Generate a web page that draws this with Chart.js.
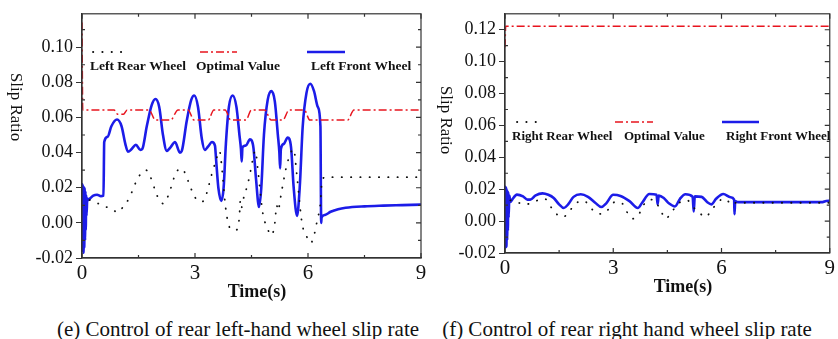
<!DOCTYPE html>
<html>
<head>
<meta charset="utf-8">
<script src="https://cdn.jsdelivr.net/npm/chart.js@4.4.1/dist/chart.umd.min.js"></script>
<style>
  body { margin: 0; background: #fff; width: 838px; height: 339px; position: relative; overflow: hidden; }
  .box { position: absolute; top: 0; height: 305px; }
  #boxL { left: 0; width: 430px; }
  #boxR { left: 430px; width: 408px; }
  .cap { position: absolute; top: 317px; font: 21px "Liberation Serif", "Times New Roman", serif; color: #111; white-space: nowrap; transform: translateX(-50%); }
</style>
</head>
<body>
<div class="box" id="boxL"><canvas id="chartL"></canvas></div>
<div class="box" id="boxR"><canvas id="chartR"></canvas></div>
<div class="cap" style="left:238px">(e) Control of rear left-hand wheel slip rate</div>
<div class="cap" style="left:627px">(f) Control of rear right hand wheel slip rate</div>
<script>
// ---- data ----
const xTicks = [0, 3, 6, 9];
const xMinor = [1.5, 4.5, 7.5];
const yTicksL = [-0.02, 0, 0.02, 0.04, 0.06, 0.08, 0.10];
const yTicksR = [-0.02, 0, 0.02, 0.04, 0.06, 0.08, 0.10, 0.12];

// left panel (e)
const leftRearT = [0.2, 0.35, 0.55, 0.75, 0.95, 1.05, 1.25, 1.45, 1.6, 1.7, 1.82, 1.95, 2.05, 2.15, 2.3, 2.45, 2.6, 2.72, 2.85, 3.0, 3.15, 3.25, 3.35, 3.45, 3.55, 3.65, 3.72, 3.8, 3.88, 3.98, 4.1, 4.18, 4.2, 4.22, 4.3, 4.4, 4.48, 4.6, 4.68, 4.8, 4.9, 5.04, 5.12, 5.17, 5.2, 5.3, 5.45, 5.62, 5.7, 5.84, 5.97, 6.07, 6.15, 6.26, 6.32, 6.38, 6.5, 9.0];
const leftRearV = [0.013, 0.012, 0.0095, 0.0085, 0.006, 0.008, 0.014, 0.024, 0.029, 0.030, 0.026, 0.018, 0.013, 0.011, 0.016, 0.026, 0.031, 0.029, 0.022, 0.0145, 0.012, 0.013, 0.02, 0.028, 0.035, 0.041, 0.03, 0.011, 0.0, -0.004, -0.004, 0.004, 0.012, 0.008, 0.015, 0.022, 0.03, 0.041, 0.028, 0.0055, -0.002, -0.007, 0.0, 0.01, 0.007, 0.018, 0.034, 0.042, 0.028, 0.0, -0.008, -0.0115, -0.008, 0.003, 0.009, 0.025, 0.026, 0.026];

const leftOptT = [0, 0.02, 0.85, 0.95, 1.1, 1.2, 1.78, 1.95, 2.35, 2.55, 2.82, 2.97, 3.35, 3.5, 3.8, 3.95, 4.35, 4.5, 4.85, 5.02, 5.33, 5.5, 5.9, 6.05, 7.05, 7.22, 9.0];
const leftOptV = [0.114, 0.0643, 0.0643, 0.0618, 0.0618, 0.0643, 0.0643, 0.0585, 0.0585, 0.0643, 0.0643, 0.0585, 0.0585, 0.0643, 0.0643, 0.0585, 0.0585, 0.0643, 0.0643, 0.0585, 0.0585, 0.0643, 0.0643, 0.0585, 0.0585, 0.0643, 0.0643];

const leftFrontT = [0, 0.01, 0.02, 0.03, 0.04, 0.05, 0.06, 0.07, 0.08, 0.09, 0.10, 0.11, 0.12, 0.14, 0.17, 0.22, 0.3, 0.4, 0.5, 0.57, 0.59, 0.68, 0.78, 0.93, 1.05, 1.15, 1.22, 1.32, 1.43, 1.55, 1.6, 1.72, 1.85, 1.95, 2.05, 2.15, 2.25, 2.35, 2.47, 2.6, 2.65, 2.78, 2.9, 2.98, 3.08, 3.18, 3.26, 3.35, 3.45, 3.53, 3.56, 3.62, 3.7, 3.76, 3.82, 3.9, 4.0, 4.1, 4.18, 4.22, 4.24, 4.26, 4.35, 4.46, 4.55, 4.62, 4.7, 4.76, 4.83, 4.93, 5.03, 5.12, 5.2, 5.24, 5.26, 5.28, 5.36, 5.46, 5.55, 5.62, 5.71, 5.78, 5.86, 5.96, 6.06, 6.16, 6.26, 6.33, 6.35, 6.36, 6.45, 6.6, 6.8, 7.0, 7.5, 8.0, 8.5, 9.0];
const leftFrontV = [0.0, 0.022, -0.016, 0.021, -0.017, 0.02, -0.014, 0.02, -0.01, 0.018, -0.004, 0.016, 0.004, 0.014, 0.013, 0.014, 0.0155, 0.016, 0.0152, 0.0155, 0.046, 0.049, 0.055, 0.0588, 0.055, 0.045, 0.0405, 0.042, 0.0445, 0.0415, 0.042, 0.055, 0.067, 0.0705, 0.066, 0.05, 0.041, 0.043, 0.046, 0.040, 0.041, 0.058, 0.070, 0.0725, 0.066, 0.048, 0.0415, 0.0435, 0.046, 0.044, 0.036, 0.020, 0.0125, 0.02, 0.045, 0.066, 0.0725, 0.066, 0.05, 0.042, 0.035, 0.043, 0.044, 0.0475, 0.043, 0.025, 0.009, 0.02, 0.05, 0.07, 0.075, 0.069, 0.05, 0.04, 0.031, 0.042, 0.045, 0.0485, 0.043, 0.02, 0.004, 0.02, 0.055, 0.074, 0.0792, 0.075, 0.066, 0.055, 0.0, 0.003, 0.0045, 0.0063, 0.0078, 0.0086, 0.0094, 0.0098, 0.0101, 0.0104];

// right panel (f)
const rightRearT = [0.15, 0.3, 0.5, 0.7, 0.9, 1.1, 1.3, 1.45, 1.6, 1.75, 1.95, 2.2, 2.35, 2.5, 2.7, 2.85, 3.05, 3.25, 3.4, 3.55, 3.7, 3.9, 4.1, 4.3, 4.45, 4.6, 4.8, 5.05, 5.25, 5.4, 5.55, 5.7, 5.9, 6.1, 6.3, 6.4, 9.0];
const rightRearV = [0.013, 0.0125, 0.0105, 0.011, 0.013, 0.014, 0.008, 0.004, 0.0025, 0.005, 0.011, 0.0125, 0.009, 0.0055, 0.0045, 0.007, 0.012, 0.011, 0.005, 0.0015, 0.004, 0.012, 0.0135, 0.0075, 0.0015, 0.005, 0.011, 0.013, 0.008, 0.005, 0.0025, 0.006, 0.012, 0.014, 0.01, 0.0115, 0.0115];

const rightOptT = [0, 0.02, 9.0];
const rightOptV = [0.109, 0.1222, 0.1222];

const rightFrontT = [0, 0.01, 0.02, 0.03, 0.04, 0.05, 0.06, 0.07, 0.08, 0.09, 0.1, 0.12, 0.15, 0.2, 0.33, 0.5, 0.62, 0.7, 0.85, 1.04, 1.2, 1.35, 1.5, 1.63, 1.75, 1.9, 2.1, 2.3, 2.5, 2.67, 2.8, 3.0, 3.2, 3.45, 3.68, 3.8, 4.0, 4.2, 4.23, 4.26, 4.4, 4.55, 4.71, 4.85, 5.0, 5.2, 5.23, 5.26, 5.45, 5.6, 5.72, 5.85, 6.05, 6.25, 6.35, 6.36, 6.38, 6.45, 8.8, 8.9, 9.0];
const rightFrontV = [0.0, 0.0215, -0.0165, 0.021, -0.016, 0.02, -0.012, 0.019, -0.006, 0.018, 0.002, 0.016, 0.012, 0.0135, 0.0166, 0.0155, 0.0135, 0.0135, 0.0162, 0.0174, 0.0165, 0.0145, 0.0105, 0.0082, 0.0105, 0.0152, 0.0168, 0.0152, 0.0115, 0.0088, 0.011, 0.0165, 0.0158, 0.0125, 0.0082, 0.0115, 0.017, 0.0165, 0.0105, 0.016, 0.0145, 0.011, 0.0092, 0.014, 0.0168, 0.0153, 0.006, 0.0155, 0.0152, 0.012, 0.0105, 0.014, 0.017, 0.015, 0.0135, 0.0043, 0.0125, 0.0119, 0.0119, 0.0126, 0.0127];

const pts = (t, v) => t.map((x, i) => ({ x: x, y: v[i] }));

const serif = '"Liberation Serif", "Times New Roman", serif';
const dotStyle = { color: '#111', width: 1.8, dash: [0.3, 9] };
const optStyle = { color: '#e8141e', width: 1.5, dash: [8, 3, 2, 3] };
const frontStyle = { color: '#1c1ce8', width: 2.6, dash: [] };

// frame, inner ticks, in-plot legend and axis titles
const decor = {
  id: 'decor',
  afterDatasetsDraw(chart, args, o) {
    const { ctx, chartArea: a, scales: { x, y } } = chart;
    ctx.save();
    ctx.strokeStyle = '#333';
    ctx.lineWidth = 1.2;
    ctx.setLineDash([]);
    ctx.strokeRect(a.left, a.top, a.width, a.height);
    ctx.beginPath();
    xTicks.concat(xMinor).forEach(v => {
      const px = x.getPixelForValue(v);
      const len = xTicks.includes(v) ? 5 : 3;
      ctx.moveTo(px, a.bottom); ctx.lineTo(px, a.bottom - len);
      ctx.moveTo(px, a.top); ctx.lineTo(px, a.top + len);
    });
    o.yTicks.forEach(v => {
      [v, v + 0.01].forEach((w, k) => {
        const py = y.getPixelForValue(w);
        if (py < a.top + 2 || py > a.bottom - 2) return;
        const len = k === 0 ? 5 : 3;
        ctx.moveTo(a.right, py); ctx.lineTo(a.right - len, py);
        if (k === 1) { ctx.moveTo(a.left, py); ctx.lineTo(a.left + 3, py); }
      });
    });
    ctx.stroke();

    // legend: sample on one row, label under it
    chart.data.datasets.forEach((ds, i) => {
      const it = o.legend[i];
      ctx.beginPath();
      ctx.strokeStyle = ds.borderColor;
      ctx.lineWidth = ds.borderWidth;
      ctx.lineCap = ds.borderCapStyle || 'butt';
      ctx.setLineDash(ds.borderDash || []);
      ctx.moveTo(it.s0, o.sampleY);
      ctx.lineTo(it.s1, o.sampleY);
      ctx.stroke();
      ctx.setLineDash([]);
      ctx.fillStyle = '#111';
      ctx.font = 'bold ' + o.legendSize + 'px ' + serif;
      ctx.textAlign = 'left';
      ctx.textBaseline = 'middle';
      ctx.fillText(ds.label, it.tx, o.textY);
    });

    // axis titles
    ctx.fillStyle = '#111';
    ctx.font = 'bold 18px ' + serif;
    ctx.textAlign = 'center';
    ctx.textBaseline = 'middle';
    ctx.fillText('Time(s)', o.timeX, o.timeY);
    ctx.translate(15, o.slipY);
    ctx.rotate(Math.PI / 2);
    ctx.font = '17px ' + serif;
    ctx.fillText('Slip Ratio', 0, 0);
    ctx.restore();
  }
};

function makeChart(id, sets, labels, yMax, yTicks, yWidth, xHeight, padRight, decorOpts) {
  const styles = [dotStyle, optStyle, frontStyle];
  return new Chart(document.getElementById(id), {
    type: 'line',
    data: {
      datasets: sets.map((d, i) => ({
        label: labels[i],
        data: d,
        borderColor: styles[i].color,
        borderWidth: styles[i].width,
        borderDash: styles[i].dash,
        borderCapStyle: i === 0 ? 'round' : 'butt',
        pointRadius: 0,
        cubicInterpolationMode: 'monotone',
        fill: false
      }))
    },
    options: {
      responsive: true,
      maintainAspectRatio: false,
      animation: false,
      layout: { padding: { left: 0, right: padRight, top: 10, bottom: 0 } },
      plugins: { legend: { display: false }, tooltip: { enabled: false }, decor: decorOpts },
      scales: {
        x: {
          type: 'linear', min: 0, max: 9,
          afterBuildTicks: s => { s.ticks = xTicks.map(v => ({ value: v })); },
          afterFit: s => { s.height = xHeight; },
          grid: { display: true, drawOnChartArea: false, drawTicks: false, color: '#333' },
          border: { display: true, color: '#333', width: 1.2 },
          ticks: { color: '#111', padding: 3, maxRotation: 0, font: { family: serif, size: 21 } }
        },
        y: {
          min: -0.02, max: yMax,
          afterBuildTicks: s => { s.ticks = yTicks.map(v => ({ value: v })); },
          afterFit: s => { s.width = yWidth; },
          grid: { display: true, drawOnChartArea: false, drawTicks: true, tickLength: 6, color: '#333' },
          border: { display: true, color: '#333', width: 1.2 },
          ticks: { color: '#111', padding: 3, font: { family: serif, size: 18 }, callback: v => v.toFixed(2) }
        }
      }
    },
    plugins: [decor]
  });
}

makeChart('chartL',
  [pts(leftRearT, leftRearV), pts(leftOptT, leftOptV), pts(leftFrontT, leftFrontV)],
  ['Left Rear Wheel', 'Optimal Value', 'Left Front Wheel'],
  0.119, yTicksL, 82, 47, 9,
  { yTicks: yTicksL, sampleY: 52, textY: 67, timeX: 257, timeY: 292, slipY: 107, legendSize: 13.5,
    legend: [{ s0: 93, s1: 128, tx: 90 }, { s0: 200, s1: 237, tx: 196 }, { s0: 307, s1: 345, tx: 311 }] });

makeChart('chartR',
  [pts(rightRearT, rightRearV), pts(rightOptT, rightOptV), pts(rightFrontT, rightFrontV)],
  ['Right Rear Wheel', 'Optimal Value', 'Right Front Wheel'],
  0.13, yTicksR, 75, 52, 3,
  { yTicks: yTicksR, sampleY: 122, textY: 137, timeX: 253, timeY: 287, slipY: 120, legendSize: 13,
    legend: [{ s0: 87, s1: 113, tx: 82 }, { s0: 185, s1: 223, tx: 194 }, { s0: 292, s1: 329, tx: 296 }] });
</script>
</body>
</html>
